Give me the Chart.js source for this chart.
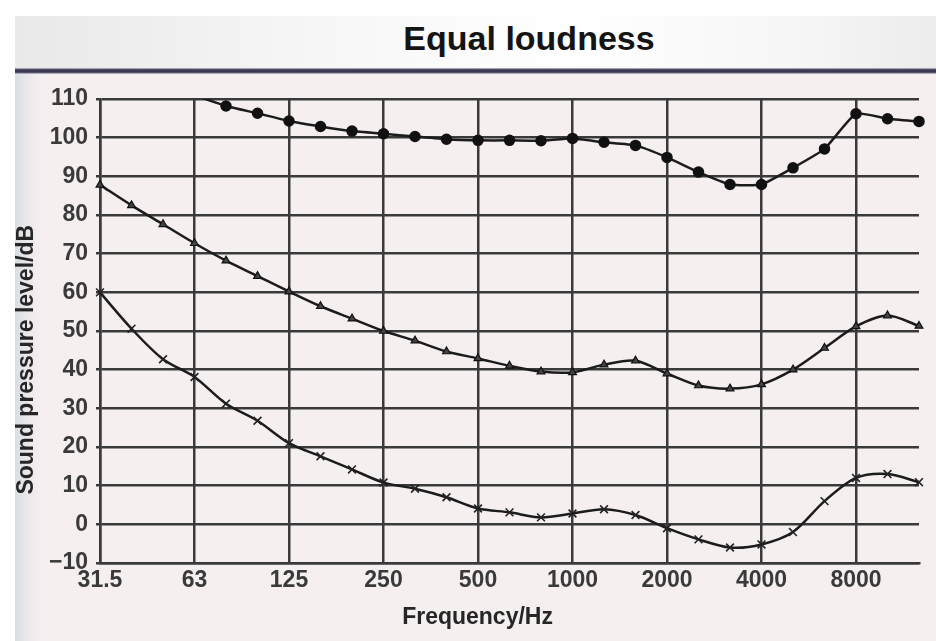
<!DOCTYPE html>
<html>
<head>
<meta charset="utf-8">
<script src="https://cdn.jsdelivr.net/npm/chart.js@4/dist/chart.umd.min.js"></script>
<style>
  html, body { margin: 0; padding: 0; background: #ffffff; }
  body { width: 936px; height: 641px; position: relative; overflow: hidden; font-family: "Liberation Sans", Arial, sans-serif; }
  #banner { position: absolute; left: 15px; top: 16px; width: 921px; height: 52px;
    background: linear-gradient(to right, #e9e9e9 0%, #f7f7f7 35%, #ffffff 60%, #f6f6f6 85%, #ececec 100%); }
  #rule { position: absolute; left: 15px; top: 68px; width: 921px; height: 6px;
    background: linear-gradient(to bottom, #c9c6dc 0%, #3a3850 30%, #3a3850 70%, #d6d3e6 100%); }
  #panel { position: absolute; left: 15px; top: 74px; width: 921px; height: 567px;
    background: linear-gradient(to right, #d9dde2 0px, #ebe8eb 12px, #f5efef 26px, #f5efef 100%); }
  #title { position: absolute; left: 529px; top: 21px; transform: translateX(-50%);
    font: bold 34px/34px "Liberation Sans", Arial, sans-serif; color: #141414; white-space: nowrap; }
  #wrap { position: absolute; left: 0; top: 0; width: 936px; height: 641px; }
</style>
</head>
<body>
<div id="banner"></div>
<div id="rule"></div>
<div id="panel"></div>
<div id="title">Equal loudness</div>
<div id="wrap"><canvas id="c" width="936" height="641"></canvas></div>
<script>
const frequencies = ['31.5','40','50','63','80','100','125','160','200','250','315','400','500','630','800','1000','1250','1600','2000','2500','3150','4000','5000','6300','8000','10000','12500'];
const octaveTicks = ['31.5','63','125','250','500','1000','2000','4000','8000'];
const curveHigh = [null,null,null,111,108.2,106.3,104.3,102.9,101.7,101,100.3,99.6,99.3,99.3,99.2,99.8,98.8,98,94.9,91.1,87.9,87.9,92.2,97.1,106.2,104.9,104.2];
const curveMid = [87.8,82.5,77.6,72.7,68.2,64.2,60.2,56.4,53.2,50,47.5,44.7,42.9,41,39.5,39.3,41.3,42.3,39,35.9,35.1,36.2,40,45.6,51.2,54,51.3];
const curveLow = [60,50.6,42.7,38.1,31.2,26.8,21,17.6,14.2,10.8,9.2,7,4.1,3.1,1.8,2.8,3.9,2.4,-1,-3.9,-6,-5.2,-2,6,12,13,10.9];
const yMin = -10, yMax = 110, yStep = 10;

const ink = '#1c1c1c';
const gridInk = '#3a3a3a';
const tickFont = { family: '"Liberation Sans", Arial, sans-serif', size: 23, weight: 'bold' };
const titleFont = { family: '"Liberation Sans", Arial, sans-serif', size: 23, weight: 'bold' };

new Chart(document.getElementById('c'), {
  type: 'line',
  data: {
    labels: frequencies,
    datasets: [
      { label: 'High', data: curveHigh, borderColor: ink, borderWidth: 2.5, tension: 0.15,
        pointStyle: 'circle', pointRadius: ctx => (ctx.raw > yMax ? 0 : 4.5), pointBackgroundColor: '#111', pointBorderColor: '#111',
        clip: { left: 10, right: 10, top: 0, bottom: 10 } },
      { label: 'Mid', data: curveMid, borderColor: ink, borderWidth: 2.5, tension: 0.3,
        pointStyle: 'triangle', pointRadius: 4.5, pointBackgroundColor: '#444', pointBorderColor: '#111', pointBorderWidth: 1.2,
        clip: 10 },
      { label: 'Low', data: curveLow, borderColor: ink, borderWidth: 2.5, tension: 0.3,
        pointStyle: 'crossRot', pointRadius: 5.5, pointBorderColor: '#222', pointBorderWidth: 1.6,
        clip: 10 }
    ]
  },
  options: {
    responsive: false,
    animation: false,
    events: [],
    layout: { padding: { left: 0, top: 99, right: 17, bottom: 0 } },
    plugins: { legend: { display: false }, tooltip: { enabled: false }, title: { display: false } },
    scales: {
      x: {
        type: 'category',
        offset: false,
        afterFit: s => { s.height = 78; },
        border: { display: true, color: gridInk, width: 2.5 },
        grid: {
          drawTicks: false,
          color: ctx => (octaveTicks.includes(frequencies[ctx.index]) ? gridInk : 'rgba(0,0,0,0)'),
          lineWidth: 2.5
        },
        ticks: {
          autoSkip: false, maxRotation: 0, minRotation: 0, padding: 4,
          color: '#3a3a3a', font: tickFont,
          callback: function (value) {
            const lab = this.getLabelForValue(value);
            return octaveTicks.includes(lab) ? lab : '';
          }
        },
        title: { display: true, text: 'Frequency/Hz          ', color: '#262626', font: titleFont, padding: { top: 0, bottom: 10 } }
      },
      y: {
        min: yMin, max: yMax,
        afterFit: s => { s.width = 100; },
        border: { display: true, color: gridInk, width: 2.5 },
        grid: { color: gridInk, lineWidth: 2.5, drawTicks: true, tickLength: 4, tickColor: gridInk },
        ticks: {
          stepSize: yStep, padding: 8, color: '#3a3a3a', font: tickFont,
          callback: v => (v < 0 ? '\u2212' + Math.abs(v) : String(v))
        },
        title: { display: true, text: 'Sound pressure level/dB         ', color: '#262626', font: titleFont, padding: { top: 13, bottom: 0 } }
      }
    }
  }
});
</script>
</body>
</html>
